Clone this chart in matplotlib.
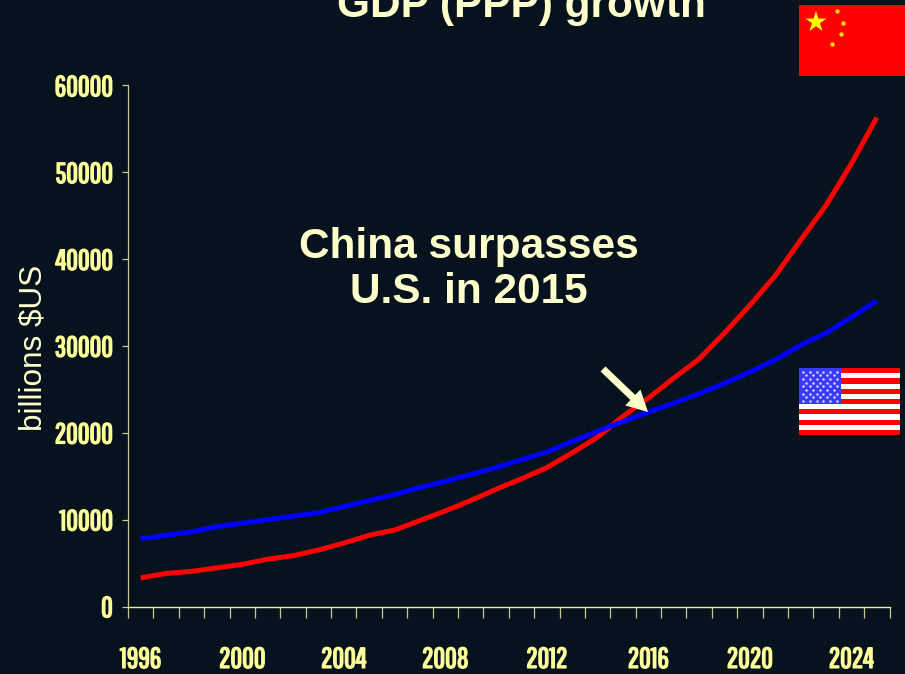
#!/usr/bin/env python3
"""GDP (PPP) growth, China vs U.S., slide style on a dark background."""
import matplotlib
matplotlib.use("Agg")
import matplotlib.pyplot as plt
import matplotlib.patheffects as pe
from matplotlib.patches import Rectangle, FancyArrow, Polygon
import numpy as np

BG = "#06131e"; CREAM = "#ffffcc"; TICK = "#ffff99"; AXIS = "#c9c98f"
NARROW = ["Pathway Gothic One", "Liberation Sans"]

years = list(range(1996, 2026))
china = [3300, 3800, 4050, 4450, 4850, 5450, 5850, 6500, 7300, 8200,
         8800, 9900, 11000, 12200, 13500, 14700, 16000, 17700, 19500, 21900,
         24000, 26300, 28500, 31500, 34700, 38100, 42200, 46200, 51000, 56300]
us = [7800, 8200, 8600, 9200, 9600, 10000, 10400, 10800, 11500, 12200,
      12900, 13700, 14400, 15200, 16000, 16900, 17800, 19000, 20200, 21300,
      22400, 23400, 24500, 25700, 27000, 28400, 30100, 31500, 33300, 35200]
year_ticks = [1996, 2000, 2004, 2008, 2012, 2016, 2020, 2024]
gdp_ticks = [0, 10000, 20000, 30000, 40000, 50000, 60000]

W, H = 905, 674
fig = plt.figure(figsize=(W / 100, H / 100), dpi=100, facecolor=BG)
ax = fig.add_axes([128 / W, 1 - 606.5 / H, (889.5 - 128) / W, 521 / H], facecolor=BG)

ax.plot(years, china, color="#ff0000", lw=3.6, solid_capstyle="butt", zorder=3)
ax.plot(years, us, color="#0000ff", lw=3.6, solid_capstyle="butt", zorder=4)

ax.set_xlim(1995.5, 2025.5)
ax.set_ylim(0, 60000)
ax.set_yticks(gdp_ticks)
ax.set_xticks(year_ticks)
ax.set_xticks(np.arange(1995.5, 2026, 1), minor=True)
ax.tick_params(axis="x", which="major", length=0, pad=29, labelcolor=TICK)
ax.tick_params(axis="x", which="minor", length=8, width=0.9, color=AXIS)
ax.tick_params(axis="y", length=4.5, width=0.9, color=AXIS, pad=6.5, labelcolor=TICK)
# the tick font is a light condensed face, thickened with a thin outline
for lab in ax.get_xticklabels() + ax.get_yticklabels():
    lab.set_fontfamily(NARROW); lab.set_fontsize(20.5)
    lab.set_path_effects([pe.withStroke(linewidth=1.1, foreground=TICK)])
for s in ["top", "right"]:
    ax.spines[s].set_visible(False)
ax.spines["left"].set_color(AXIS); ax.spines["left"].set_linewidth(0.9)
ax.spines["bottom"].set_color("#ecec9f"); ax.spines["bottom"].set_linewidth(1)

# everything else is placed in figure pixels
ov = fig.add_axes([0, 0, 1, 1], facecolor="none")
ov.set_xlim(0, W); ov.set_ylim(H, 0); ov.axis("off")

ov.text(521, 6, "GDP (PPP) growth", color=CREAM, fontsize=30.5, fontweight="bold",
        family="Liberation Sans", ha="center", va="center")
ov.text(469, 269.5, "China surpasses\nU.S. in 2015", color=CREAM, fontsize=30.5, fontweight="bold",
        family="Liberation Sans", ha="center", va="center", linespacing=1.17)
ov.text(33, 348, "billions $US", color=CREAM, fontsize=22.7, family="Liberation Sans",
        rotation=90, ha="center", va="center")

ov.add_patch(FancyArrow(603, 369, 45, 43, width=7, head_width=22, head_length=21,
                        length_includes_head=True, color=CREAM, lw=0, zorder=5))

# China flag
ov.add_patch(Rectangle((799, 5), 106, 71, color="#ff0000", lw=0))
def star(cx, cy, r):
    a = np.pi / 2 + np.arange(10) * np.pi / 5
    rr = np.where(np.arange(10) % 2 == 0, r, r * 0.38)
    return np.column_stack([cx + rr * np.cos(a), cy - rr * np.sin(a)])
ov.add_patch(Polygon(star(816, 22, 11), color="#ffff00", lw=0))
for cx, cy in [(837, 11), (843, 23), (841, 34), (832, 44)]:
    ov.plot(cx, cy, "o", ms=3.2, color="#ffd800", mew=0)

# U.S. flag with a hard black drop shadow
ov.add_patch(Rectangle((801, 370), 100, 67, color="#000000", lw=0))
ov.add_patch(Rectangle((799, 368), 101, 67, color="#ffffff", lw=0))
for i in range(7):
    ov.add_patch(Rectangle((799, 368 + i * 10.3), 101, 5.2, color="#ff0000", lw=0))
ov.add_patch(Rectangle((799, 368), 42, 36, color="#3a3aff", lw=0))
for r in range(9):
    for c in range(6 if r % 2 == 0 else 5):
        ov.plot(803 + c * 6.8 + (3.4 if r % 2 else 0), 371.5 + r * 3.7, "o", ms=1.8,
                color="#d8d8ff", mew=0)

fig.savefig("out.png", dpi=100, facecolor=BG)
